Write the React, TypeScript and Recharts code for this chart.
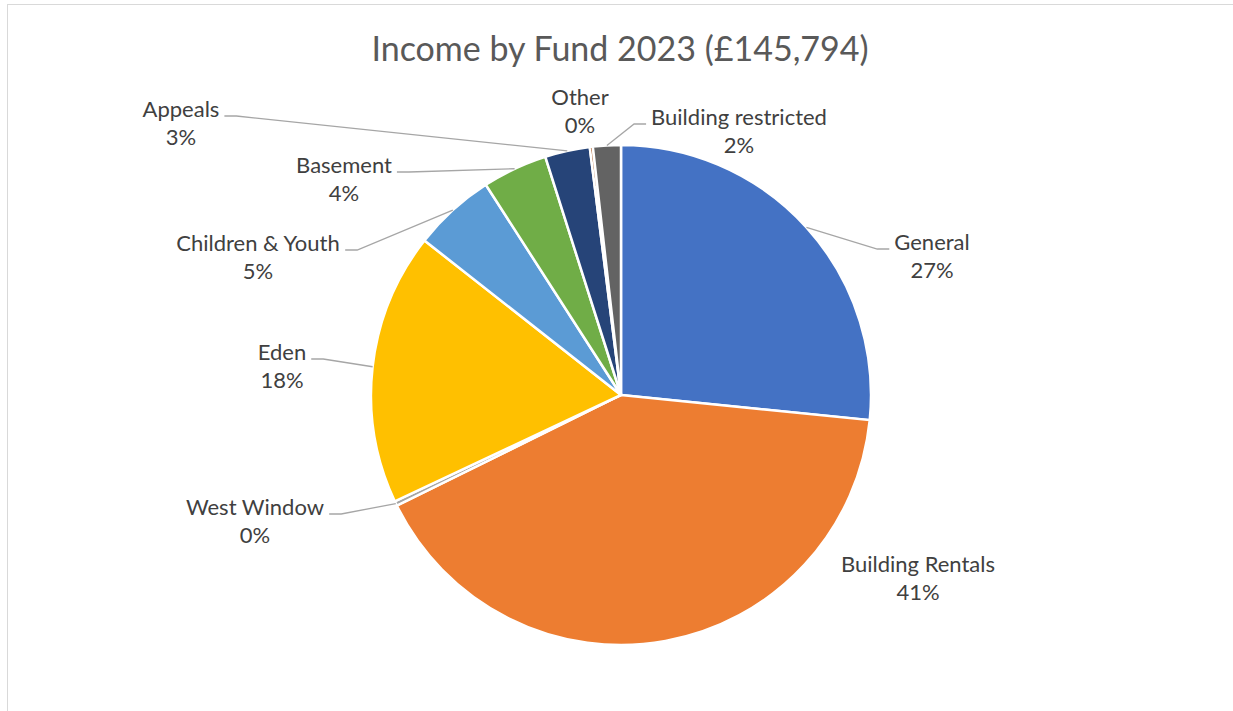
import React from 'react';
import { PieChart, Pie, Cell } from 'recharts';

// Income by fund, 2023 (total £145,794)
const FUNDS = [
  'General',
  'Building Rentals',
  'West Window',
  'Eden',
  'Children & Youth',
  'Basement',
  'Appeals',
  'Other',
  'Building restricted',
];
const INCOME = [38784, 59920, 440, 25660, 7730, 6120, 4230, 290, 2620];
const COLORS = ['#4472C4', '#ED7D31', '#A5A5A5', '#FFC000', '#5B9BD5', '#70AD47', '#264478', '#9E480E', '#636363'];

const TITLE = 'Income by Fund 2023 (£145,794)';

const FONT = 'Lato, "Open Sans", sans-serif';
const LABEL_SIZE = 22;
const TITLE_SIZE = 34;
const LABEL_COLOR = '#404040';
const TITLE_COLOR = '#595959';
const LEADER_COLOR = '#a6a6a6';

// Excel "best fit" label spots: offset of the name line baseline from the pie centre
const LABEL_SPOTS = [
  { dx: 311, dy: -145, leader: true },
  { dx: 297, dy: 177, leader: false },
  { dx: -366, dy: 120, leader: true },
  { dx: -339, dy: -35, leader: true },
  { dx: -363, dy: -144, leader: true },
  { dx: -277, dy: -222, leader: true },
  { dx: -440, dy: -278, leader: true },
  { dx: -41, dy: -290, leader: false },
  { dx: 118, dy: -270, leader: true },
];

const data = FUNDS.map((name, i) => ({ name, value: INCOME[i] }));

let ctx: CanvasRenderingContext2D | null = null;
const textWidth = (s: string) => {
  if (!ctx) ctx = document.createElement('canvas').getContext('2d');
  if (!ctx) return s.length * LABEL_SIZE * 0.5;
  ctx.font = `${LABEL_SIZE}px ${FONT}`;
  return ctx.measureText(s).width;
};

const RAD = Math.PI / 180;

const renderLabel = (props: any) => {
  const { cx, cy, midAngle, outerRadius, percent, index } = props;
  const spot = LABEL_SPOTS[index];
  const name = FUNDS[index];
  const x = cx + spot.dx;
  const y = cy + spot.dy;
  const sx = cx + outerRadius * Math.cos(-midAngle * RAD);
  const sy = cy + outerRadius * Math.sin(-midAngle * RAD);
  let line = null;
  if (spot.leader) {
    const w = textWidth(name);
    const onLeft = x < sx;
    const ex = onLeft ? x + w / 2 + 5 : x - w / 2 - 5;
    const bx = onLeft ? ex + 12 : ex - 12;
    const ly = y - 1;
    line = (
      <polyline
        points={`${sx},${sy} ${bx},${ly} ${ex},${ly}`}
        fill="none"
        stroke={LEADER_COLOR}
        strokeWidth={1.3}
      />
    );
  }
  return (
    <g key={`lbl-${index}`}>
      {line}
      <text x={x} y={y} textAnchor="middle" fill={LABEL_COLOR} fontSize={LABEL_SIZE} fontFamily={FONT}>
        {name}
      </text>
      <text x={x} y={y + 28} textAnchor="middle" fill={LABEL_COLOR} fontSize={LABEL_SIZE} fontFamily={FONT}>
        {`${Math.round(percent * 100)}%`}
      </text>
    </g>
  );
};

export default function App() {
  return (
    <div style={{ position: 'absolute', left: 0, top: 0, width: 1233, height: 711, background: '#fff', overflow: 'hidden' }}>
      <div
        style={{
          position: 'absolute',
          left: 7,
          top: 4,
          width: 1240,
          height: 720,
          border: '1px solid #d9d9d9',
          boxSizing: 'border-box',
        }}
      />
      <svg width={1233} height={711} style={{ position: 'absolute', left: 0, top: 0 }}>
        <text x={620} y={61} textAnchor="middle" fill={TITLE_COLOR} fontSize={TITLE_SIZE} fontFamily={FONT}>
          {TITLE}
        </text>
      </svg>
      <div style={{ position: 'absolute', left: 0, top: 0 }}>
        <PieChart width={1233} height={711} margin={{ top: 0, right: 0, bottom: 0, left: 0 }}>
          <Pie
            data={data}
            dataKey="value"
            nameKey="name"
            cx={621}
            cy={395}
            outerRadius={250}
            startAngle={90}
            endAngle={-270}
            stroke="#ffffff"
            strokeWidth={2.5}
            labelLine={false}
            label={renderLabel}
            isAnimationActive={false}
          >
            {data.map((d, i) => (
              <Cell key={d.name} fill={COLORS[i]} />
            ))}
          </Pie>
        </PieChart>
      </div>
    </div>
  );
}
